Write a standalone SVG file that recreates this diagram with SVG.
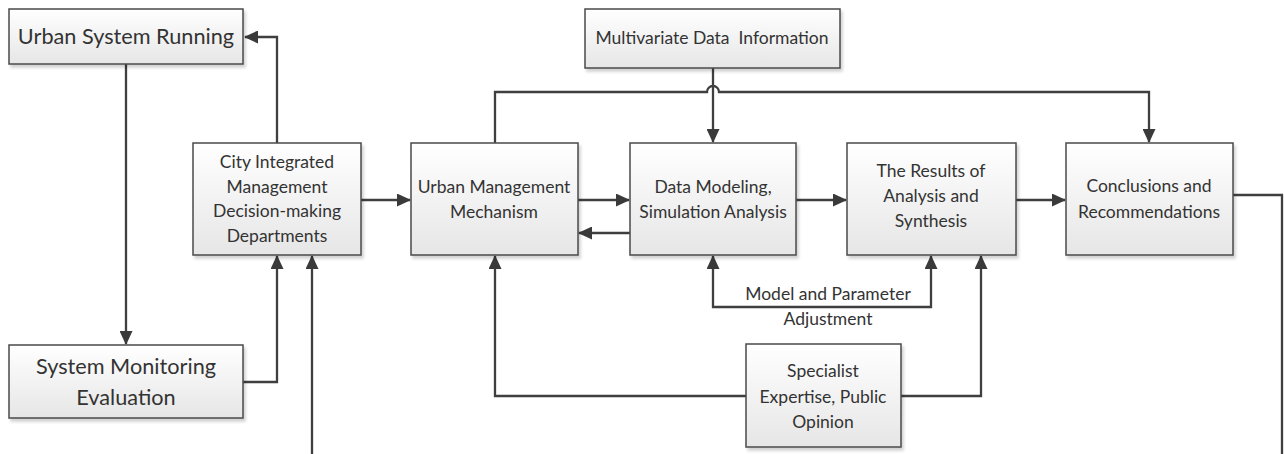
<svg xmlns="http://www.w3.org/2000/svg" width="1284" height="454" viewBox="0 0 1284 454">
<defs>
<linearGradient id="g" x1="0" y1="0" x2="0" y2="1">
<stop offset="0" stop-color="#ffffff"/>
<stop offset="1" stop-color="#e6e6e6"/>
</linearGradient>
<filter id="sh" x="-10%" y="-10%" width="130%" height="140%">
<feDropShadow dx="2" dy="3" stdDeviation="1.5" flood-color="#000" flood-opacity="0.18"/>
</filter>
<marker id="ah" viewBox="0 0 14 13" markerWidth="14" markerHeight="13" refX="13" refY="6.5" orient="auto" markerUnits="userSpaceOnUse">
<path d="M0,0 L14,6.5 L0,13 z" fill="#3a3a3a"/>
</marker>
<marker id="as" viewBox="0 0 14 13" markerWidth="14" markerHeight="13" refX="1" refY="6.5" orient="auto" markerUnits="userSpaceOnUse">
<path d="M14,0 L0,6.5 L14,13 z" fill="#3a3a3a"/>
</marker>
<style>
.box{fill:url(#g);stroke:#4a4a4a;stroke-width:1.5;filter:url(#sh)}
.t{font-family:Lato,"Liberation Sans",sans-serif;font-size:17.5px;fill:#333;text-anchor:middle}
.tl{font-family:Lato,"Liberation Sans",sans-serif;font-size:21.7px;fill:#333;text-anchor:middle}
.c{fill:none;stroke:#3f3f3f;stroke-width:2.3}
.a{marker-end:url(#ah)}
</style>
</defs>
<g id="connectors">
<path class="c a" d="M277,143 V37 H245"/>
<path class="c a" d="M126,64 V344"/>
<path class="c a" d="M243,382 H277 V256"/>
<path class="c a" d="M312,454 V256"/>
<path class="c a" d="M361,200 H410"/>
<path class="c a" d="M578,200 H629"/>
<path class="c a" d="M630,233 H579"/>
<path class="c a" d="M713,68 V142"/>
<path class="c a" d="M495,143 V92 H707 A6,6 0 0 1 719,92 H1149 V142"/>
<path class="c a" d="M796,200 H846"/>
<path class="c a" d="M1016,200 H1065"/>
<path class="c" d="M1233,195 H1282 V454"/>
<path class="c a" style="marker-start:url(#as)" d="M713,256 V307 H931 V256"/>
<path class="c a" d="M746,396 H495 V256"/>
<path class="c a" d="M901,396 H981 V256"/>
<text class="t" x="828" y="300">Model and Parameter</text>
<text class="t" x="828" y="325">Adjustment</text>
</g>
<g id="usr"><rect class="box" x="9" y="9" width="234" height="55"/><text class="tl" x="126" y="44">Urban System Running</text></g>
<g id="sme"><rect class="box" x="9" y="345" width="234" height="73"/><text class="tl" x="126" y="374">System Monitoring</text><text class="tl" x="126" y="405">Evaluation</text></g>
<g id="city"><rect class="box" x="193" y="143" width="168" height="112"/>
<text class="t" x="277" y="168">City Integrated</text><text class="t" x="277" y="193">Management</text><text class="t" x="277" y="217">Decision-making</text><text class="t" x="277" y="242">Departments</text></g>
<g id="umm"><rect class="box" x="411" y="143" width="167" height="112"/>
<text class="t" x="494" y="193">Urban Management</text><text class="t" x="494" y="218">Mechanism</text></g>
<g id="mdi"><rect class="box" x="585" y="9" width="255" height="59"/>
<text class="t" x="712" y="44" xml:space="preserve">Multivariate Data  Information</text></g>
<g id="dm"><rect class="box" x="630" y="143" width="166" height="112"/>
<text class="t" x="713" y="193">Data Modeling,</text><text class="t" x="713" y="218">Simulation Analysis</text></g>
<g id="res"><rect class="box" x="847" y="143" width="169" height="112"/>
<text class="t" x="931" y="177">The Results of</text><text class="t" x="931" y="202">Analysis and</text><text class="t" x="931" y="227">Synthesis</text></g>
<g id="con"><rect class="box" x="1066" y="143" width="167" height="112"/>
<text class="t" x="1149" y="192">Conclusions and</text><text class="t" x="1149" y="218">Recommendations</text></g>
<g id="spe"><rect class="box" x="746" y="344" width="155" height="103"/>
<text class="t" x="823" y="377">Specialist</text><text class="t" x="823" y="403">Expertise, Public</text><text class="t" x="823" y="428">Opinion</text></g>
</svg>
